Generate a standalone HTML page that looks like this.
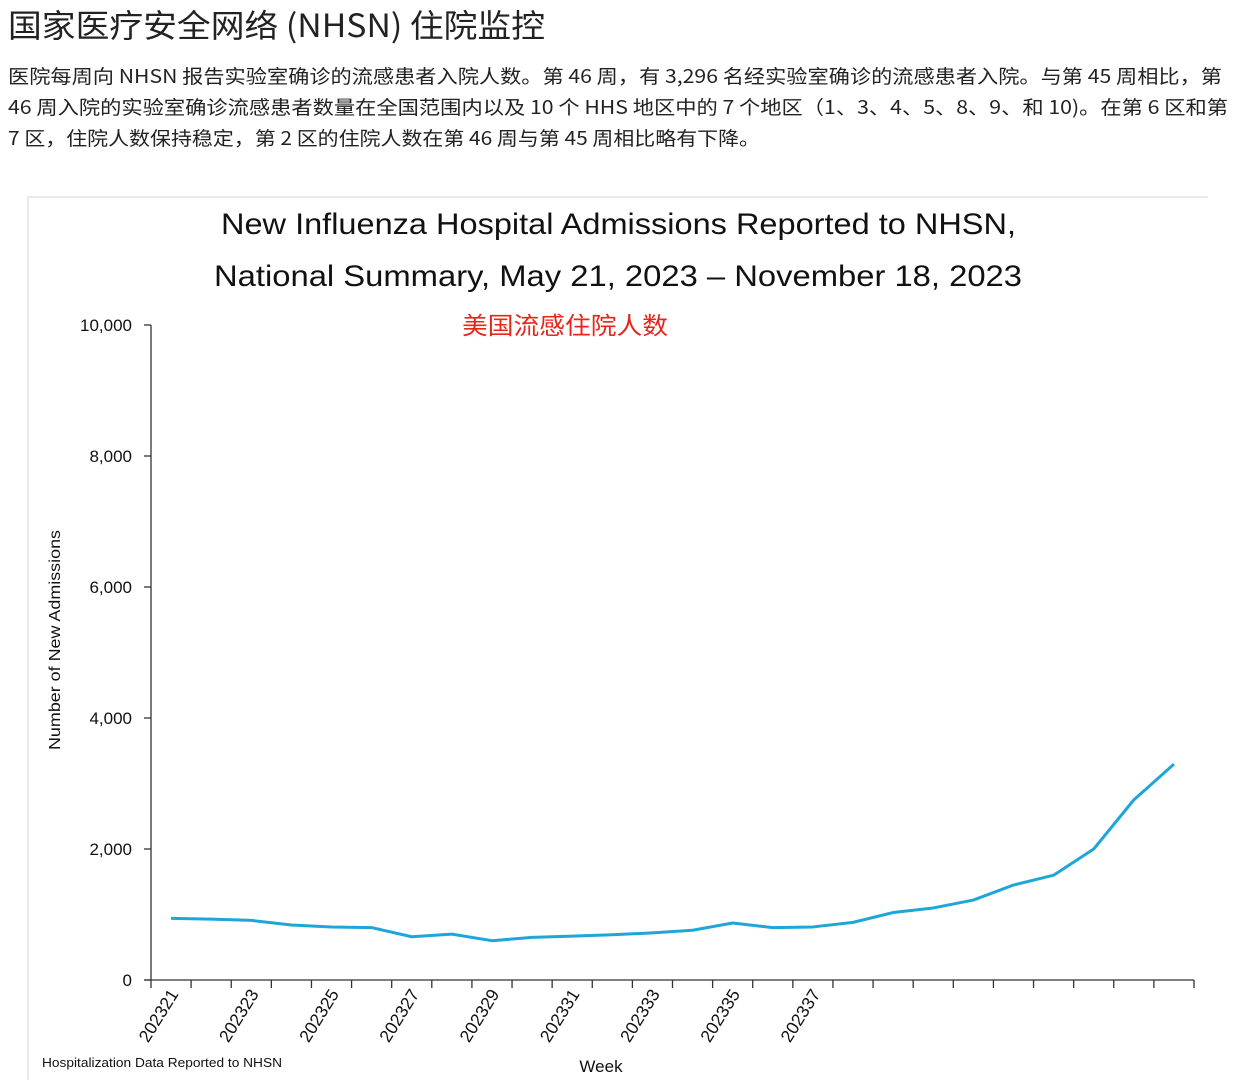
<!DOCTYPE html>
<html><head><meta charset="utf-8"><style>
body{margin:0;width:1236px;height:1080px;background:#fff;overflow:hidden;font-family:"Liberation Sans","Noto Sans CJK SC",sans-serif;color:#222}
svg{position:absolute;left:0;top:0}
</style></head><body>
<svg id="chart" width="1236" height="1080">
<text x="8" y="37" font-size="32" fill="#222" textLength="537" lengthAdjust="spacingAndGlyphs" font-family="Noto Sans CJK SC, sans-serif">国家医疗安全网络 (NHSN) 住院监控</text>
<g font-size="19" fill="#222" font-family="Noto Sans CJK SC, sans-serif">
<text x="8" y="83" textLength="1214" lengthAdjust="spacingAndGlyphs">医院每周向 NHSN 报告实验室确诊的流感患者入院人数。第 46 周，有 3,296 名经实验室确诊的流感患者入院。与第 45 周相比，第</text>
<text x="8" y="114" textLength="1220" lengthAdjust="spacingAndGlyphs">46 周入院的实验室确诊流感患者数量在全国范围内以及 10 个 HHS 地区中的 7 个地区（1、3、4、5、8、9、和 10)。在第 6 区和第</text>
<text x="8" y="145" textLength="752" lengthAdjust="spacingAndGlyphs">7 区，住院人数保持稳定，第 2 区的住院人数在第 46 周与第 45 周相比略有下降。</text>
</g>
<path d="M28,1080 V197 H1208" fill="none" stroke="#e4e4e4" stroke-width="1.5"/>
<text x="221" y="234" font-size="30" fill="#111" textLength="795" lengthAdjust="spacingAndGlyphs">New Influenza Hospital Admissions Reported to NHSN,</text>
<text x="214" y="286" font-size="30" fill="#111" textLength="808" lengthAdjust="spacingAndGlyphs">National Summary, May 21, 2023 – November 18, 2023</text>
<text x="462" y="334" font-size="24" fill="#e8251c" textLength="206" lengthAdjust="spacingAndGlyphs" font-family="Noto Sans CJK SC, sans-serif">美国流感住院人数</text>
<text transform="translate(60,640) rotate(-90)" text-anchor="middle" font-size="16" fill="#111" textLength="220" lengthAdjust="spacingAndGlyphs">Number of New Admissions</text>
<text x="601" y="1072" text-anchor="middle" font-size="17" fill="#111">Week</text>
<text x="42" y="1067" font-size="13" fill="#111" textLength="240" lengthAdjust="spacingAndGlyphs">Hospitalization Data Reported to NHSN</text>
<g id="axes"></g>
<g id="series"></g>
</svg>
<script>
const weeks=["202321","202322","202323","202324","202325","202326","202327","202328","202329","202330","202331","202332","202333","202334","202335","202336","202337","202338","202339","202340","202341","202342","202343","202344","202345","202346"];
const admissions=[940,930,910,840,810,800,660,700,600,650,670,690,720,760,870,800,810,880,1030,1100,1220,1450,1600,2000,2750,3296];
const yTicks=[0,2000,4000,6000,8000,10000];
const yTickLabels=["0","2,000","4,000","6,000","8,000","10,000"];
const shownLabels=["202321","202323","202325","202327","202329","202331","202333","202335","202337"];
const X0=151,X1=1194,Y0=980,Y1=325;
const band=(X1-X0)/weeks.length;
const x=i=>X0+band*(i+0.5);
const y=v=>Y0-(v/10000)*(Y0-Y1);
const NS="http://www.w3.org/2000/svg";
const ax=document.getElementById('axes'),se=document.getElementById('series');
function mk(tag,attrs,parent,txt){const e=document.createElementNS(NS,tag);for(const k in attrs)e.setAttribute(k,attrs[k]);if(txt!==undefined)e.textContent=txt;parent.appendChild(e);return e;}
let e=mk('line',{x1:X0,y1:Y1,x2:X0,y2:Y0,stroke:'#333','stroke-width':1.3},ax);


e=mk('line',{x1:X0-6,y1:Y0,x2:X1,y2:Y0,stroke:'#333','stroke-width':1.3},ax);


yTicks.forEach((t,i)=>{
 e=mk('line',{x1:X0-7,y1:y(t),x2:X0,y2:y(t),stroke:'#333','stroke-width':1.3},ax);
 
 
 e=mk('text',{x:X0-19,y:y(t)+6,'text-anchor':'end','font-size':17,fill:'#111'},ax,yTickLabels[i]);
 
 
});
for(let i=0;i<=weeks.length;i++){
 e=mk('line',{x1:X0+band*i,y1:Y0,x2:X0+band*i,y2:Y0+8,stroke:'#333','stroke-width':1.3},ax);
 
 
}
weeks.forEach((w,i)=>{
 if(shownLabels.indexOf(w)<0)return;
 const lx=x(i)+8,ly=Y0+14;
 e=mk('text',{x:lx,y:ly,'text-anchor':'end','font-size':17.5,fill:'#111',transform:`rotate(-58 ${lx} ${ly})`},ax,w);
 
 
});
e=mk('polyline',{points:admissions.map((v,i)=>x(i)+','+y(v)).join(' '),fill:'none',stroke:'#1ea6d9','stroke-width':3,'stroke-linejoin':'round'},se);


</script>
</body></html>
